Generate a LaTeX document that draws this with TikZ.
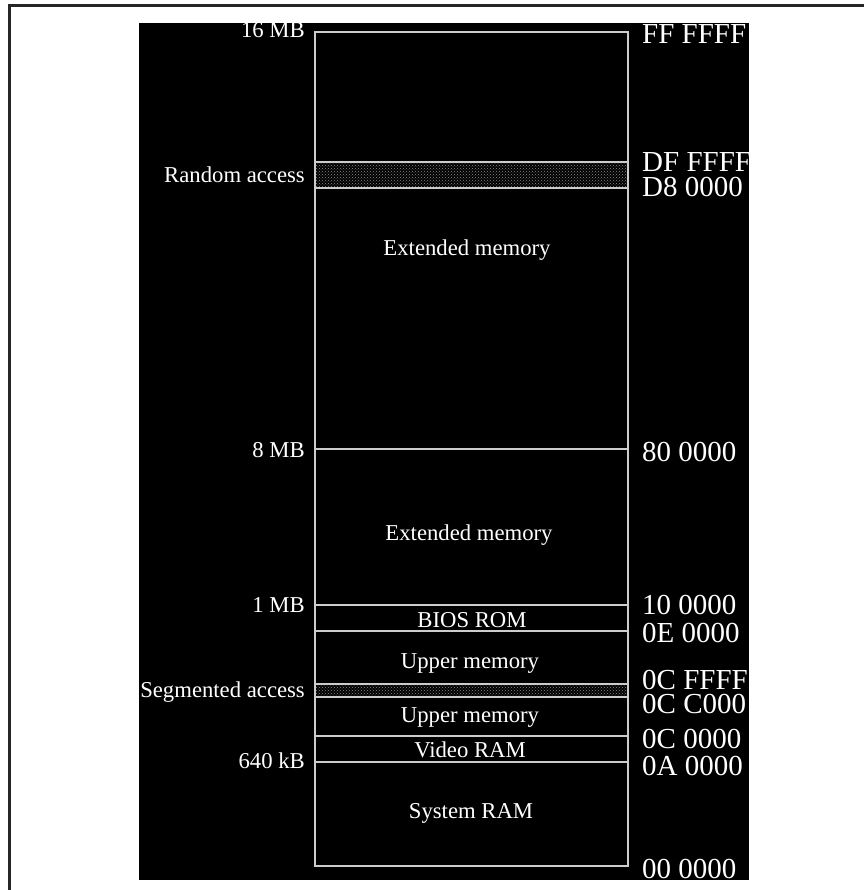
\documentclass[tikz,border=0pt]{standalone}
\usepackage{fontspec}
\setmainfont{Liberation Serif}
\usepackage{tikz}
\usetikzlibrary{patterns}

\begin{document}
\begin{tikzpicture}[
          x=1pt, y=-1pt,
          memline/.style={draw=black!20, line width=1.1pt},
          accessband/.style={pattern=crosshatch dots, pattern color=black!45},
          sizelabel/.style={anchor=base east, inner sep=0pt, text=white,
            text height=16pt, text depth=1pt,
            font=\fontsize{22.7pt}{24pt}\selectfont},
          addrlabel/.style={anchor=base west, inner sep=0pt, text=white,
            text height=19pt, text depth=1pt,
            font=\fontsize{29pt}{30pt}\selectfont},
          arealabel/.style={anchor=base, inner sep=0pt, text=white,
            text height=16pt, text depth=5pt,
            font=\fontsize{22.7pt}{24pt}\selectfont}
        ]
        \useasboundingbox (0,0) rectangle (864,890);
        % page frame and black background
        \draw[line width=3pt, black!85] (9.5,890) -- (9.5,5.5) -- (864,5.5);
        \fill[black] (139,23) rectangle (749,880);

        % memory column
        \fill[accessband] (315,162) rectangle (628,188);
        \fill[accessband] (315,684) rectangle (628,697);
        \draw[memline] (315,32) rectangle (628,866);
        \draw[memline] (315,162) -- (628,162);
        \draw[memline] (315,188) -- (628,188);
        \draw[memline] (315,449) -- (628,449);
        \draw[memline] (315,605) -- (628,605);
        \draw[memline] (315,631) -- (628,631);
        \draw[memline] (315,684) -- (628,684);
        \draw[memline] (315,697) -- (628,697);
        \draw[memline] (315,736) -- (628,736);
        \draw[memline] (315,762) -- (628,762);

        % sizes on the left
        \node[sizelabel] (s16) at (305,38) {16 MB};
        \node[sizelabel] (random) at (305,183) {Random access};
        \node[sizelabel] (s8) at (305,457) {8 MB};
        \node[sizelabel] (s1) at (305,612) {1 MB};
        \node[sizelabel] (segmented) at (305,697) {Segmented access};
        \node[sizelabel] (s640) at (305,768) {640 kB};

        % areas
        \node[arealabel] (ext2) at (467,255) {Extended memory};
        \node[arealabel] (ext1) at (469,540) {Extended memory};
        \node[arealabel] (bios) at (472,627) {BIOS ROM};
        \node[arealabel] (upper2) at (470,668) {Upper memory};
        \node[arealabel] (upper1) at (470,722) {Upper memory};
        \node[arealabel] (video) at (470,757) {Video RAM};
        \node[arealabel] (system) at (471,818) {System RAM};

        % addresses on the right
        \node[addrlabel] (aFFFFFF) at (642,44) {FF FFFF};
        \node[addrlabel] (aDFFFFF) at (642,172) {DF FFFF};
        \node[addrlabel] (aD80000) at (642,197) {D8 0000};
        \node[addrlabel] (a800000) at (642,461) {80 0000};
        \node[addrlabel] (a100000) at (642,614) {10 0000};
        \node[addrlabel] (a0E0000) at (642,642) {0E 0000};
        \node[addrlabel] (a0CFFFF) at (642,689) {0C FFFF};
        \node[addrlabel] (a0CC000) at (642,713) {0C C000};
        \node[addrlabel] (a0C0000) at (642,748) {0C 0000};
        \node[addrlabel] (a0A0000) at (642,775) {0A 0000};
        \node[addrlabel] (a000000) at (642,878) {00 0000};
        \end{tikzpicture}
\end{document}
